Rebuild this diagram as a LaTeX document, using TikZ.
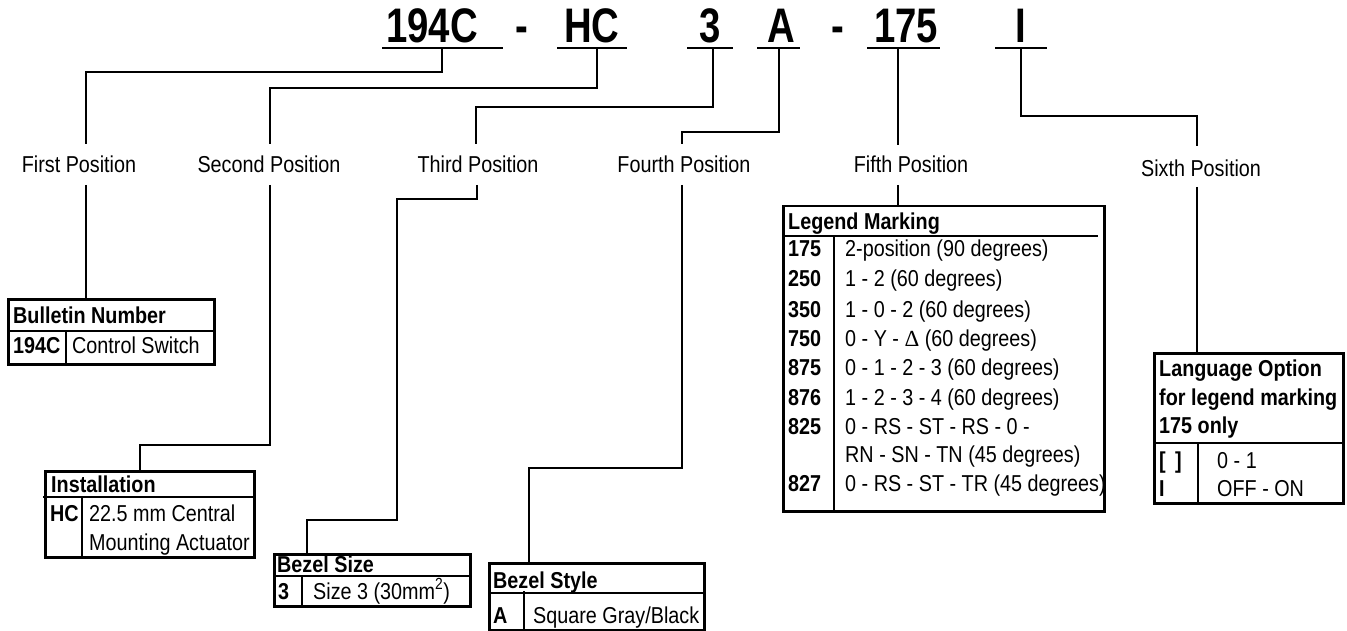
\documentclass[tikz,border=0pt]{standalone}
\usepackage{fontspec}
\setmainfont{Liberation Sans}[FakeStretch=0.86]
\newfontfamily\hdrfont{Liberation Sans}[FakeStretch=0.79]
\begin{document}
\begin{tikzpicture}[x=1pt,y=-1pt,
  every node/.style={inner sep=0pt},
  lbl/.style={anchor=base,font=\fontsize{23}{29}\selectfont},
  txt/.style={anchor=base west,font=\fontsize{23}{29}\selectfont},
  bld/.style={anchor=base west,font=\fontsize{23}{29}\selectfont\bfseries},
  hdr/.style={anchor=base,font=\fontsize{48.5}{50}\selectfont\hdrfont\bfseries},
  wire/.style={line width=2.5pt},
  frame/.style={draw,line width=2.5pt,anchor=north west}]
\useasboundingbox (0,0) rectangle (1347,631);

% ---- header code ----
\node[hdr] (h1) at (432,43) {194C};
\node[hdr] (hd1) at (522,43) {-};
\node[hdr] (h2) at (592,43) {HC};
\node[hdr] (h3) at (710,43) {3};
\node[hdr] (h4) at (781,43) {A};
\node[hdr] (hd2) at (838,43) {-};
\node[hdr] (h5) at (906,43) {175};
\node[hdr] (h6) at (1021,43) {I};
\draw[wire] (382,48) -- (503,48);
\draw[wire] (557,48) -- (627,48);
\draw[wire] (687,48) -- (733,48);
\draw[wire] (757,48) -- (800,48);
\draw[wire] (867,48) -- (940,48);
\draw[wire] (995,48) -- (1047,48);

% ---- position labels ----
\node[lbl] (l1) at (79,173) {First Position};
\node[lbl] (l2) at (269,173) {Second Position};
\node[lbl] (l3) at (478,173) {Third Position};
\node[lbl] (l4) at (684,173) {Fourth Position};
\node[lbl] (l5) at (911,173) {Fifth Position};
\node[lbl] (l6) at (1201,177) {Sixth Position};

% ---- upper connector points ----
\coordinate (t1) at (442,48);  \coordinate (k1) at (86,72);   \coordinate (e1) at (86,144);
\coordinate (t2) at (597,48);  \coordinate (k2) at (270,88);  \coordinate (e2) at (270,144);
\coordinate (t3) at (713,48);  \coordinate (k3) at (476,107); \coordinate (e3) at (476,144);
\coordinate (t4) at (779,48);  \coordinate (k4) at (682,132); \coordinate (e4) at (682,144);
\coordinate (t5) at (898,48);  \coordinate (e5) at (898,145);
\coordinate (t6) at (1021,48); \coordinate (k6) at (1197,116); \coordinate (e6) at (1197,146);

\draw[wire] (t1) |- (k1) -- (e1);
\draw[wire] (t2) |- (k2) -- (e2);
\draw[wire] (t3) |- (k3) -- (e3);
\draw[wire] (t4) |- (k4) -- (e4);
\draw[wire] (t5) -- (e5);
\draw[wire] (t6) |- (k6) -- (e6);

% ---- boxes ----
\node[frame,minimum width=206pt,minimum height=65pt] (bb) at (7,298) {};
\draw[wire] (7,331) -- (213,331);
\draw[wire] (66,331) -- (66,363);
\node[bld] (bbh) at (13,323) {Bulletin Number};
\node[bld] (bbk) at (13,353) {194C};
\node[txt] (bbv) at (72,353) {Control Switch};

\node[frame,minimum width=209pt,minimum height=86pt] (ib) at (44,470) {};
\draw[wire] (43,497) -- (253,497);
\draw[wire] (82,497) -- (82,557);
\node[bld] (ibh) at (51,492) {Installation};
\node[bld] (ibk) at (50,521) {HC};
\node[txt] (ibv1) at (89,521) {22.5 mm Central};
\node[txt] (ibv2) at (89,550) {Mounting Actuator};

\node[frame,minimum width=196pt,minimum height=52pt] (sb) at (273,553) {};
\draw[wire] (273,576) -- (469,576);
\draw[wire] (302,576) -- (302,605);
\node[bld] (sbh) at (277,572) {Bezel Size};
\node[bld] (sbk) at (278,599) {3};
\node[txt] (sbv) at (313,599) {Size 3 (30mm\textsuperscript{2})};

\node[frame,minimum width=215pt,minimum height=67pt] (yb) at (488,562) {};
\draw[wire] (488,593) -- (703,593);
\draw[wire] (524,591) -- (524,630);
\node[bld] (ybh) at (493,588) {Bezel Style};
\node[bld] (ybk) at (493,623) {A};
\node[txt] (ybv) at (533,623) {Square Gray/Black};

\node[frame,minimum width=321pt,minimum height=305pt] (lb) at (782,205) {};
\draw[wire] (782,236) -- (1098,236);
\draw[wire] (834,236) -- (834,510);
\node[bld] (lbh) at (788,230) {Legend Marking};
\node[bld] (r1k) at (788,257) {175}; \node[txt] (r1v) at (845,257) {2-position (90 degrees)};
\node[bld] (r2k) at (788,287) {250}; \node[txt] (r2v) at (845,287) {1 - 2 (60 degrees)};
\node[bld] (r3k) at (788,317) {350}; \node[txt] (r3v) at (845,317) {1 - 0 - 2 (60 degrees)};
\node[bld] (r4k) at (788,346) {750}; \node[txt] (r4v) at (845,346) {0 - Y - {\fontspec{Liberation Serif}Δ} (60 degrees)};
\node[bld] (r5k) at (788,375) {875}; \node[txt] (r5v) at (845,375) {0 - 1 - 2 - 3 (60 degrees)};
\node[bld] (r6k) at (788,405) {876}; \node[txt] (r6v) at (845,405) {1 - 2 - 3 - 4 (60 degrees)};
\node[bld] (r7k) at (788,434) {825}; \node[txt] (r7v) at (845,434) {0 - RS - ST - RS - 0 -};
\node[txt] (r8v) at (845,462) {RN - SN - TN (45 degrees)};
\node[bld] (r9k) at (788,491) {827}; \node[txt] (r9v) at (845,491) {0 - RS - ST - TR (45 degrees)};

\node[frame,minimum width=189pt,minimum height=150pt] (gb) at (1153,352) {};
\draw[wire] (1153,443) -- (1342,443);
\draw[wire] (1198,443) -- (1198,504);
\node[bld] (gbh1) at (1159,376) {Language Option};
\node[bld] (gbh2) at (1159,405) {for legend marking};
\node[bld] (gbh3) at (1159,433) {175 only};
\node[bld] (g1k) at (1159,468) {[ \,]};
\node[bld] (g2k) at (1159,496) {I};
\node[txt] (g1v) at (1217,468) {0 - 1};
\node[txt] (g2v) at (1217,496) {OFF - ON};

% ---- lower connector points ----
\coordinate (s1) at (86,185);
\coordinate (s2) at (270,185);  \coordinate (m2) at (140,445);
\coordinate (s3) at (477,185);  \coordinate (m3a) at (397,199); \coordinate (m3b) at (307,520);
\coordinate (s4) at (682,185);  \coordinate (m4) at (529,468);
\coordinate (s5) at (898,185);
\coordinate (s6) at (1197,187);

\draw[wire] (s1) -- (bb.north -| s1);
\draw[wire] (s2) |- (m2) -- (ib.north -| m2);
\draw[wire] (s3) |- (m3a) |- (m3b) -- (sb.north -| m3b);
\draw[wire] (s4) |- (m4) -- (yb.north -| m4);
\draw[wire] (s5) -- (lb.north -| s5);
\draw[wire] (s6) -- (gb.north -| s6);
\end{tikzpicture}
\end{document}
